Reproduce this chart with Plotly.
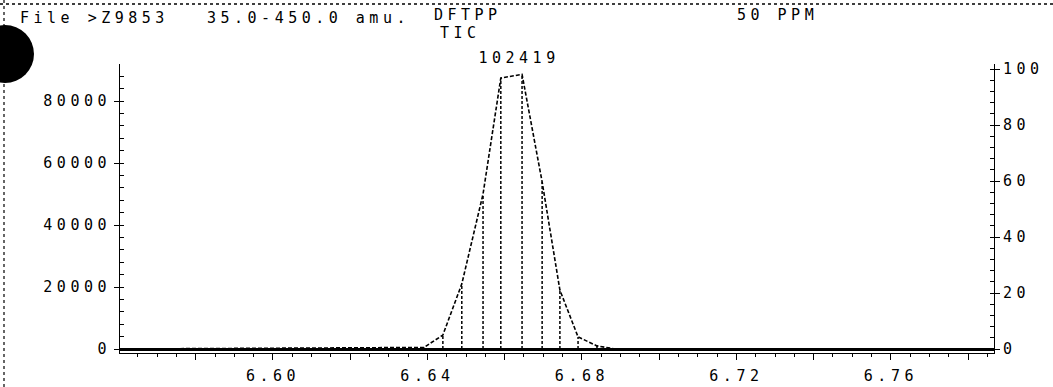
import plotly.graph_objects as go

# ---------------- data ----------------
times = [6.5604, 6.6391, 6.6440, 6.6489, 6.6544, 6.6590, 6.6645,
         6.6697, 6.6743, 6.6790, 6.6839, 6.6886, 6.7867]
abundance = [0, 500, 4500, 21000, 50000, 87400, 88600,
             53900, 19000, 3900, 1000, 0, 0]
peak_label = "102419"

x_tick_positions = [6.58, 6.60, 6.62, 6.64, 6.66, 6.68, 6.70, 6.72, 6.74, 6.76, 6.78]
x_tick_labels = ["", "6.60", "", "6.64", "", "6.68", "", "6.72", "", "6.76", ""]
left_ticks = [0, 20000, 40000, 60000, 80000]
right_ticks = [0, 20, 40, 60, 80, 100]

header_file = "File >Z9853"
header_mass = "35.0-450.0 amu."
header_compound = "DFTPP"
header_signal = "TIC"
header_conc = "50 PPM"

# ---------------- layout geometry ----------------
W, H = 1053, 387
ML, MR, MT, MB = 120, 59, 64, 34
PW, PH = W - ML - MR, H - MT - MB
INK = "#000000"
FONT = "DejaVu Sans Mono"
FS = 15


def px(x):
    return (x - ML) / PW


def py(y):
    return (H - MB - y) / PH


fig = go.Figure()

# vertical scan markers from baseline to each scan value
vx, vy = [], []
for t, a in zip(times, abundance):
    if a > 0:
        vx += [t, t, None]
        vy += [0, a, None]
fig.add_trace(go.Scatter(x=vx, y=vy, mode="lines",
                         line=dict(color=INK, width=1.5, dash="3px,2px"),
                         hoverinfo="skip", showlegend=False))

# chromatogram outline
fig.add_trace(go.Scatter(x=times, y=abundance, mode="lines",
                         line=dict(color=INK, width=1.6, dash="4px,2px"),
                         showlegend=False))

# same signal in percent on the right axis (invisible, carries the axis)
pmax = max(abundance)
fig.add_trace(go.Scatter(x=times, y=[a / pmax * 100 for a in abundance],
                         yaxis="y2", mode="lines", opacity=0,
                         hoverinfo="skip", showlegend=False))

ipk = abundance.index(pmax)
annotations = [
    dict(x=times[ipk] - 0.0008, y=abundance[ipk], xref="x", yref="y",
         text=peak_label, showarrow=False, yanchor="bottom", yshift=5,
         font=dict(family=FONT, size=FS, color=INK)),
]
for txt, xx, yy in [(header_file, 18, 18), (header_mass, 205, 18),
                    (header_compound, 432, 15), (header_signal, 438, 33),
                    (header_conc, 735, 15)]:
    annotations.append(dict(x=px(xx), y=py(yy), xref="paper", yref="paper",
                            text=txt, showarrow=False, xanchor="left",
                            yanchor="middle", align="left",
                            font=dict(family=FONT, size=FS, color=INK)))

shapes = [
    # dotted top edge and dashed left edge of the scanned sheet
    dict(type="line", xref="paper", yref="paper", x0=px(0), x1=px(W),
         y0=py(4), y1=py(4), line=dict(color=INK, width=1.5, dash="dot")),
    dict(type="line", xref="paper", yref="paper", x0=px(4), x1=px(4),
         y0=py(0), y1=py(H), line=dict(color=INK, width=1.2, dash="3px,3px")),
    # punched hole
    dict(type="circle", xref="paper", yref="paper", x0=px(-24), x1=px(34),
         y0=py(83), y1=py(25), fillcolor="black", line=dict(color="black", width=0)),
]

tickfont = dict(family=FONT, size=FS, color=INK)

fig.update_layout(
    width=W, height=H,
    margin=dict(l=ML, r=MR, t=MT, b=MB, autoexpand=False),
    paper_bgcolor="white", plot_bgcolor="white",
    showlegend=False,
    annotations=annotations, shapes=shapes,
    xaxis=dict(range=[6.5604, 6.7867], tickvals=x_tick_positions,
               ticktext=x_tick_labels, automargin=False,
               showline=True, linecolor=INK, linewidth=1,
               ticks="outside", ticklen=6, tickcolor=INK, ticklabelstandoff=3,
               minor=dict(dtick=0.005, tick0=6.6, ticks="outside", ticklen=3,
                          tickcolor=INK),
               showgrid=False, zeroline=False, tickfont=tickfont),
    yaxis=dict(range=[-1290, 91936], tickvals=left_ticks, tickformat="d",
               automargin=False,
               showline=True, linecolor=INK, linewidth=1,
               ticks="outside", ticklen=5, tickcolor=INK,
               minor=dict(dtick=4000, ticks="inside", ticklen=4, tickcolor=INK),
               showgrid=False, zeroline=True, zerolinecolor=INK,
               zerolinewidth=2.5, tickfont=tickfont),
    yaxis2=dict(range=[-1.43, 101.8], tickvals=right_ticks, overlaying="y",
                side="right", automargin=False,
                showline=True, linecolor=INK, linewidth=1,
                ticks="outside", ticklen=5, tickcolor=INK,
                minor=dict(dtick=4, ticks="inside", ticklen=4, tickcolor=INK),
                showgrid=False, zeroline=False, tickfont=tickfont),
)

post = ("var s=document.createElement('style');"
        "s.textContent='html,body{margin:0;padding:0}"
        " .main-svg text{letter-spacing:4.5px}';"
        "document.head.appendChild(s);")
fig.write_html("out.html", post_script=post, config={"displayModeBar": False})
